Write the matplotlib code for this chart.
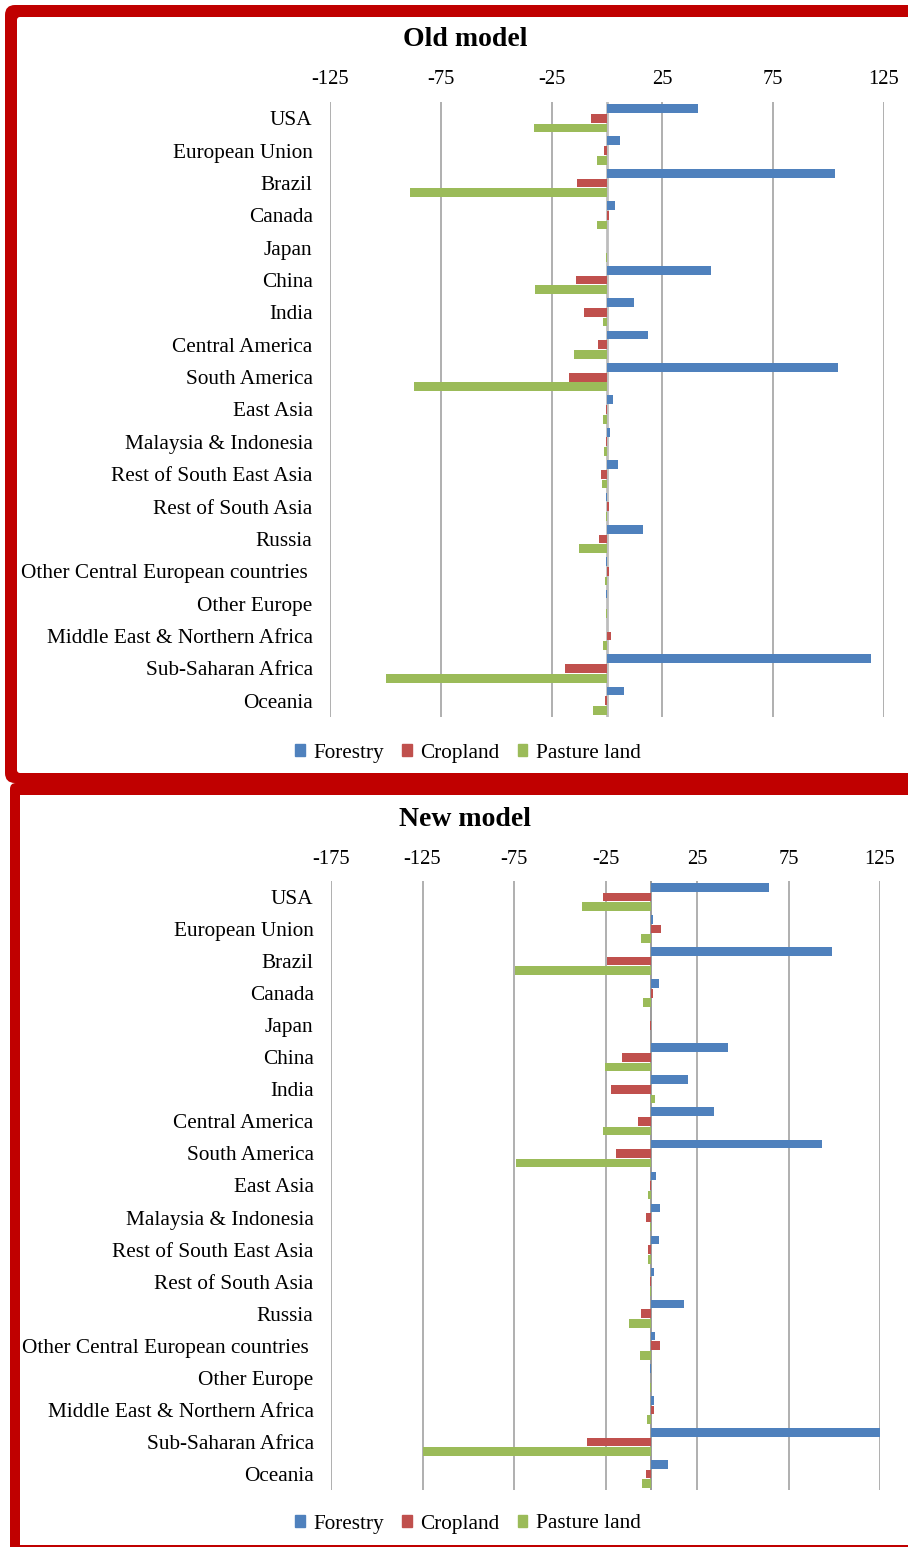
import numpy as np
import matplotlib
matplotlib.use("Agg")
import matplotlib.pyplot as plt
from matplotlib.patches import FancyBboxPatch, Rectangle, Patch

W, H = 908, 1547

REGIONS = [
    "USA", "European Union", "Brazil", "Canada", "Japan", "China", "India",
    "Central America", "South America", "East Asia", "Malaysia & Indonesia",
    "Rest of South East Asia", "Rest of South Asia", "Russia",
    "Other Central European countries ", "Other Europe",
    "Middle East & Northern Africa", "Sub-Saharan Africa", "Oceania",
]
SERIES = ["Forestry", "Cropland", "Pasture land"]
COLORS = ["#4F81BD", "#C0504D", "#9BBB59"]

# old model
OLD_FORESTRY = [41.0, 5.7, 103.0, 3.5, 0.0, 46.8, 12.0, 18.5, 104.3, 2.6,
                1.4, 5.0, -0.45, 16.4, -0.45, -0.45, 0.0, 119.2, 7.5]
OLD_CROPLAND = [-7.2, -1.5, -13.6, 0.9, 0.0, -14.1, -10.4, -3.9, -17.2, -0.45,
                -0.45, -2.6, 0.75, -3.5, 0.9, 0.0, 1.65, -19.1, -0.9]
OLD_PASTURE = [-33.0, -4.4, -89.0, -4.4, -0.45, -32.3, -1.8, -14.7, -87.3, -1.8,
               -1.2, -2.3, -0.45, -12.5, -0.9, -0.45, -1.8, -99.9, -6.5]
OLD_TICKS = [-125, -75, -25, 25, 75, 125]

# new model
NEW_FORESTRY = [64.4, 0.7, 99.0, 4.2, 0.0, 42.0, 20.0, 34.2, 93.5, 2.5,
                4.6, 4.2, 1.5, 17.9, 2.0, -0.55, 1.3, 125.0, 8.9]
NEW_CROPLAND = [-26.4, 5.1, -24.1, 0.7, -0.55, -16.0, -22.0, -7.3, -19.2, -0.55,
                -2.9, -1.6, -0.55, -5.5, 4.7, 0.0, 1.6, -35.2, -2.9]
NEW_PASTURE = [-37.8, -5.5, -74.5, -4.6, -0.35, -25.2, 2.2, -26.4, -73.9, -1.6,
               -0.9, -2.0, -0.55, -12.0, -6.4, -0.55, -2.5, -125.0, -5.1]
NEW_TICKS = [-175, -125, -75, -25, 25, 75, 125]

RED = "#C00000"
FONT = ["Liberation Serif", "DejaVu Serif"]
FS = 15.3
plt.rcParams["font.family"] = FONT


def px_axes(fig, left, top, right, bottom):
    """Add an axes given in pixel coordinates (origin at top-left)."""
    return fig.add_axes([left / W, 1 - bottom / H, (right - left) / W, (bottom - top) / H])


def draw_frames(fig):
    """Thick red rounded borders around the two chart panels."""
    bg = fig.add_axes([0, 0, 1, 1], zorder=-10)
    bg.set_xlim(0, W)
    bg.set_ylim(H, 0)
    bg.axis("off")
    # upper panel
    bg.add_patch(FancyBboxPatch((5, 5), 960, 778, boxstyle="round,pad=0,rounding_size=10",
                                fc=RED, ec="none"))
    bg.add_patch(FancyBboxPatch((17, 17), 960, 756, boxstyle="round,pad=0,rounding_size=3",
                                fc="white", ec="none"))
    # lower panel
    bg.add_patch(FancyBboxPatch((10, 783), 960, 800, boxstyle="round,pad=0,rounding_size=6",
                                fc=RED, ec="none"))
    bg.add_patch(Rectangle((20, 795), 960, 750, fc="white", ec="none"))


def draw_panel(fig, box, title, title_y, legend_y, series, ticks, axis_style):
    left, top, right, bottom = box
    ax = px_axes(fig, left, top, right, bottom)
    y = np.arange(len(REGIONS))
    for i, (vals, color) in enumerate(zip(series, COLORS)):
        ax.barh(y + (i - 1) * 0.3, vals, height=0.27, color=color,
                edgecolor="none", zorder=3)

    ax.set_xlim(ticks[0], ticks[-1])
    ax.set_ylim(len(REGIONS) - 0.5, -0.5)
    ax.axvline(0, color=axis_style[0], lw=axis_style[1], zorder=2)

    ax.xaxis.tick_top()
    ax.set_xticks(ticks)
    ax.set_xticklabels([str(t) for t in ticks], fontsize=14.8)
    ax.tick_params(axis="x", length=0, pad=9)
    ax.set_yticks(y)
    ax.set_yticklabels(REGIONS, fontsize=FS)
    ax.tick_params(axis="y", length=0, pad=12.5)
    ax.grid(axis="x", color="#9a9a9a", lw=1.1, zorder=1)
    for s in ax.spines.values():
        s.set_visible(False)

    fig.text(465 / W, 1 - title_y / H, title, ha="center", va="center",
             fontsize=20, fontweight="bold")

    handles = [Patch(color=c) for c in COLORS]
    ax.legend(handles, SERIES, loc="center", bbox_to_anchor=(468 / W, 1 - legend_y / H),
              bbox_transform=fig.transFigure, ncol=3, frameon=False, fontsize=FS,
              handlelength=0.45, handleheight=0.45, handletextpad=0.4, columnspacing=0.85)
    return ax


def main():
    fig = plt.figure(figsize=(W / 100, H / 100), dpi=100)
    draw_frames(fig)

    draw_panel(fig, (330, 102, 884, 717), "Old model", 40, 753,
               [OLD_FORESTRY, OLD_CROPLAND, OLD_PASTURE], OLD_TICKS, ("#bdbdbd", 2.0))
    draw_panel(fig, (331, 881, 880, 1490), "New model", 819, 1524,
               [NEW_FORESTRY, NEW_CROPLAND, NEW_PASTURE], NEW_TICKS, ("#8a8a8a", 1.2))

    fig.savefig("out.png", dpi=100)
    plt.close(fig)


if __name__ == "__main__":
    main()
